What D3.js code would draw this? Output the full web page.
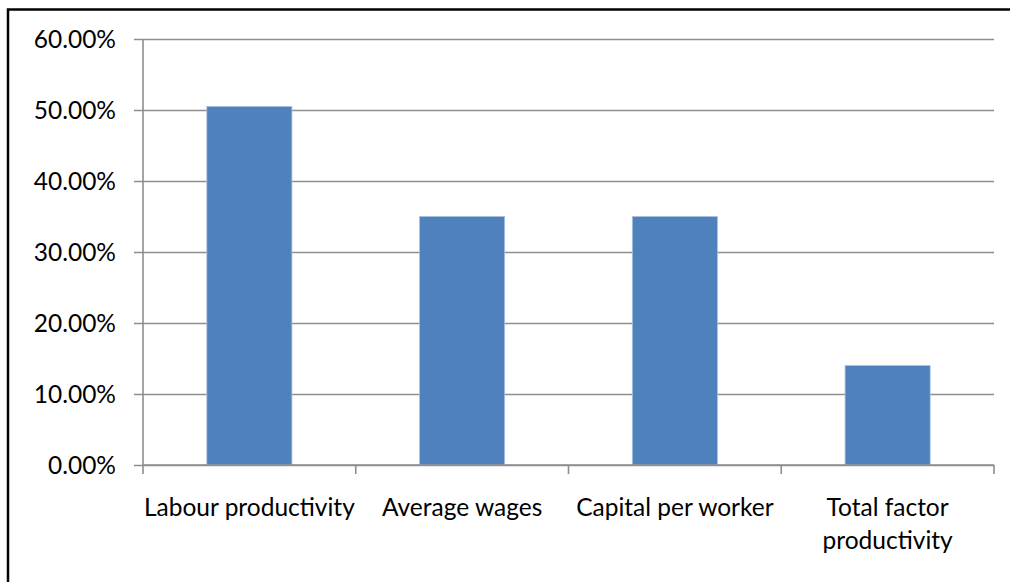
<!DOCTYPE html>
<html>
<head>
<meta charset="utf-8">
<script src="https://cdn.jsdelivr.net/npm/d3@7"></script>
<style>
	html, body { margin: 0; padding: 0; background: #fff; overflow: hidden; }
	svg { display: block; }
	text { font-family: Lato, 'Open Sans', sans-serif; fill: #000; }
</style>
</head>
<body>
<div id="chart"></div>
<script>
const categories = ['Labour productivity', 'Average wages', 'Capital per worker', 'Total factor productivity'];
const values = [0.505, 0.35, 0.35, 0.14];
const yTicks = [0, 0.1, 0.2, 0.3, 0.4, 0.5, 0.6];

const width = 1010;
const height = 582;
const margin = { top: 39, right: 16, bottom: 117, left: 143 };
const fontSize = 24.5;

const svg = d3.select('#chart')
	.append('svg')
	.attr('width', width)
	.attr('height', height);

// outer frame: only its top and left edges fall inside the picture
svg.append('path')
	.attr('d', `M8,${height} L8,9.5 L${width},9.5`)
	.attr('fill', 'none')
	.attr('stroke', '#000')
	.attr('stroke-width', 2.5);

const plotW = width - margin.left - margin.right;
const plotH = height - margin.top - margin.bottom;

const x = d3.scaleBand().domain(categories).range([0, plotW]).paddingInner(0.6).paddingOuter(0.3);
const y = d3.scaleLinear().domain([0, 0.6]).range([plotH, 0]);

const g = svg.append('g').attr('transform', `translate(${margin.left},${margin.top})`);

// gridlines + y axis
const yAxis = g.append('g')
	.call(d3.axisLeft(y).tickValues(yTicks).tickSize(-plotW).tickPadding(27).tickFormat(d3.format('.2%')));
yAxis.select('.domain').remove();
yAxis.selectAll('.tick line').attr('stroke', '#8e8e8e').attr('stroke-width', 1.6).attr('x1', -9);
yAxis.selectAll('.tick text').attr('font-size', fontSize).attr('font-family', null).attr('dy', '0.35em');

g.append('line')
	.attr('x1', 0).attr('x2', 0)
	.attr('y1', 0).attr('y2', plotH)
	.attr('stroke', '#8e8e8e').attr('stroke-width', 1.6);

// bars
g.append('g')
	.selectAll('rect')
	.data(values)
	.enter()
	.append('rect')
	.attr('x', (d, i) => x(categories[i]))
	.attr('y', d => y(d))
	.attr('width', x.bandwidth())
	.attr('height', d => plotH - y(d))
	.attr('fill', '#4f81bd')
	.attr('stroke', '#a9c1e0')
	.attr('stroke-width', 0.8);

// x axis with ticks between categories
const step = plotW / categories.length;
const xAxis = g.append('g').attr('transform', `translate(0,${plotH})`);
xAxis.append('line')
	.attr('x1', 0).attr('x2', plotW)
	.attr('stroke', '#8e8e8e').attr('stroke-width', 1.6);
xAxis.selectAll('.sep')
	.data(d3.range(categories.length + 1))
	.enter()
	.append('line')
	.attr('x1', d => d * step).attr('x2', d => d * step)
	.attr('y1', 0).attr('y2', 9)
	.attr('stroke', '#8e8e8e').attr('stroke-width', 1.6);

const wrapLabel = (label) => {
	// break into lines that fit inside one category slot (a little overhang is ok)
	const words = label.split(' ');
	const lines = [];
	let line = '';
	const probe = svg.append('text').attr('font-size', fontSize);
	words.forEach(w => {
		const test = line ? line + ' ' + w : w;
		probe.text(test);
		if (probe.node().getComputedTextLength() > step + 16 && line) {
			lines.push(line);
			line = w;
		} else {
			line = test;
		}
	});
	lines.push(line);
	probe.remove();
	return lines;
};

categories.forEach((c, i) => {
	const t = xAxis.append('text')
		.attr('x', x(c) + x.bandwidth() / 2)
		.attr('y', 50.5)
		.attr('text-anchor', 'middle')
		.attr('font-size', fontSize);
	wrapLabel(c).forEach((ln, k) => {
		t.append('tspan')
			.attr('x', x(c) + x.bandwidth() / 2)
			.attr('dy', k ? 33 : 0)
			.text(ln);
	});
});
</script>
</body>
</html>
